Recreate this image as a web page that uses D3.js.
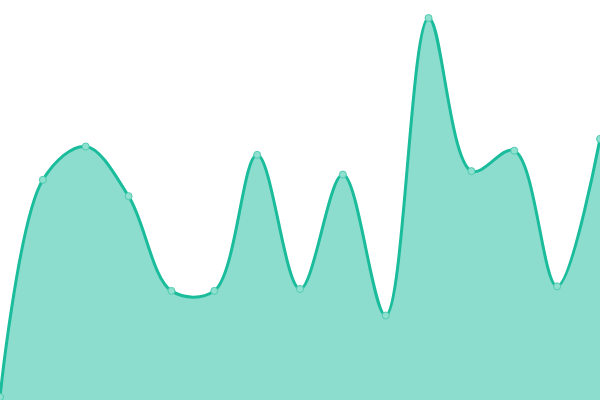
<!DOCTYPE html>
<html>
<head>
<meta charset="utf-8">
<script src="https://cdn.jsdelivr.net/npm/d3@7"></script>
<style>
  body { margin: 0; background: #fff; }
  svg { display: block; }
</style>
</head>
<body>
<div id="chart"></div>
<script>
// chart size, the plot fills the whole window
var svgWidth = 600;
var svgHeight = 400;

// data
var labels = ["1", "2", "3", "4", "5", "6", "7", "8", "9", "10", "11", "12", "13", "14", "15"];
var values = [0, 57.3, 66.1, 53.0, 28.0, 28.0, 63.9, 28.5, 58.7, 21.5, 100, 59.6, 65.0, 29.2, 68.1];

var lineColor = "#1abc9c";
var fillColor = "rgba(26,188,156,0.5)";

var svg = d3.select("#chart")
  .append("svg")
  .attr("width", svgWidth)
  .attr("height", svgHeight);

// scales
var xScale = d3.scalePoint()
  .domain(labels)
  .range([0, svgWidth]);

var yScale = d3.scaleLinear()
  .domain([0, 100])
  .range([397, 18]);

var curve = d3.curveCatmullRom.alpha(0.5);

// area under the line
var area = d3.area()
  .x((d, i) => xScale(labels[i]))
  .y0(svgHeight)
  .y1(d => yScale(d))
  .curve(curve);

svg.append("path")
  .datum(values)
  .attr("d", area)
  .attr("fill", fillColor);

// the line on top
var line = d3.line()
  .x((d, i) => xScale(labels[i]))
  .y(d => yScale(d))
  .curve(curve);

svg.append("path")
  .datum(values)
  .attr("d", line)
  .attr("fill", "none")
  .attr("stroke", lineColor)
  .attr("stroke-width", 3);

// point markers
svg.selectAll("circle")
  .data(values)
  .enter()
  .append("circle")
  .attr("cx", (d, i) => xScale(labels[i]))
  .attr("cy", d => yScale(d))
  .attr("r", 3.5)
  .attr("fill", "#8fe0cf")
  .attr("stroke", "#4fcbb1")
  .attr("stroke-width", 1);
</script>
</body>
</html>
